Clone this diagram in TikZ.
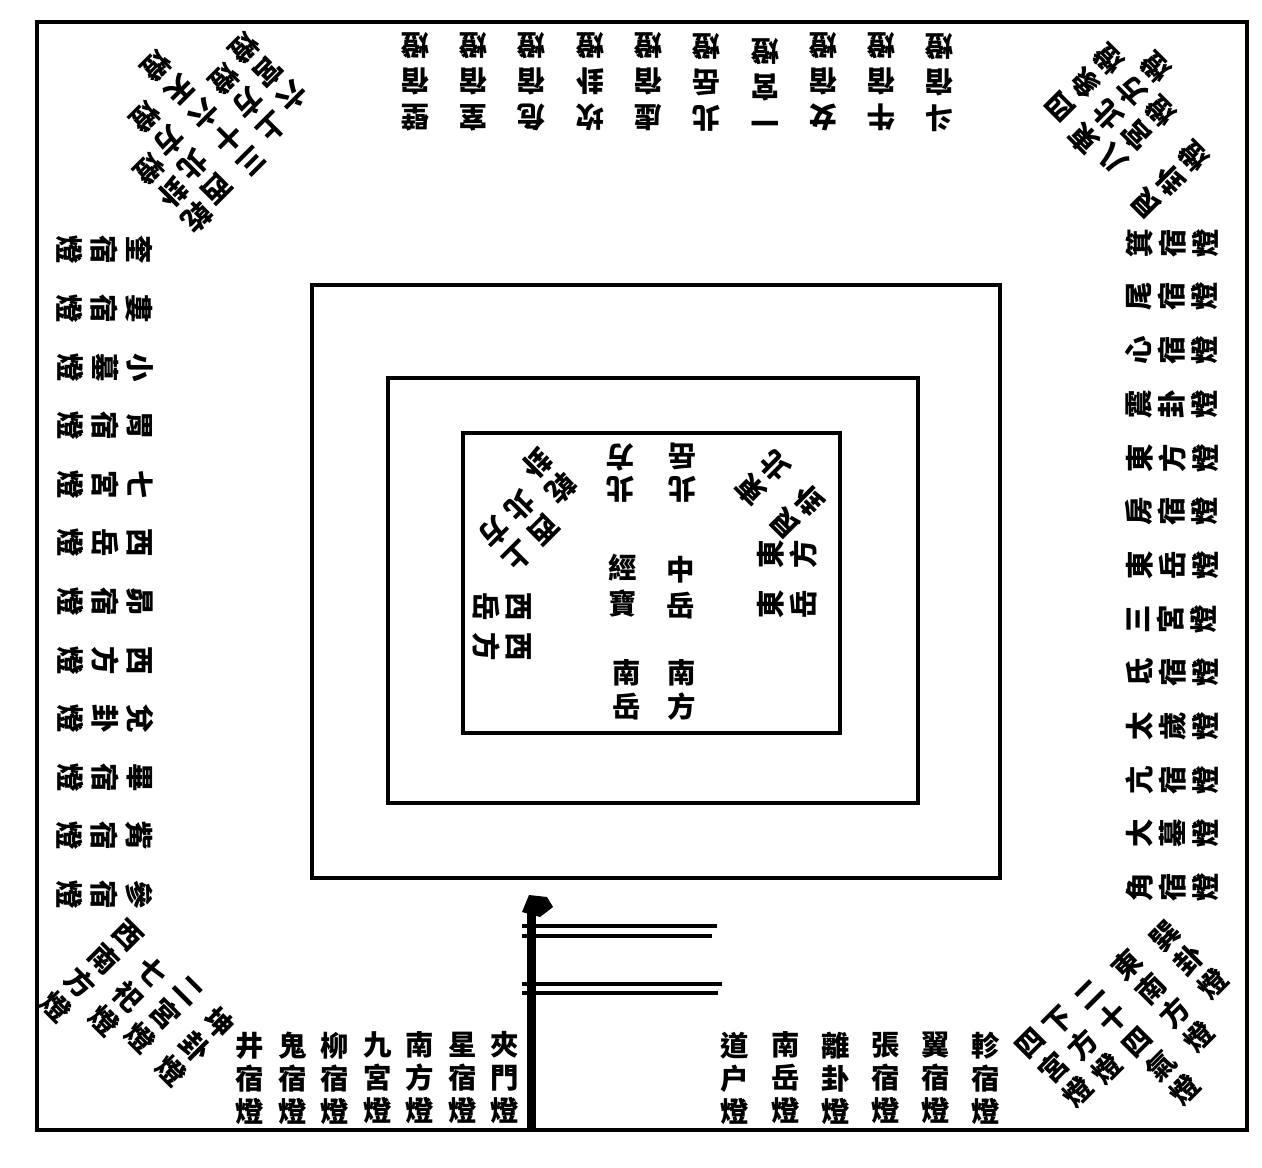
\documentclass[tikz,border=0pt]{standalone}
\usepackage{fontspec}
\newfontfamily\cjk{Noto Sans CJK TC}
\newcommand\lampfont[1]{\cjk\bfseries\fontsize{14.2}{#1}\selectfont}
\tikzset{
  lamp/.style={font=\lampfont{#1}, align=center, inner sep=0pt},
  lamp/.default=17,
  frame/.style={line width=2pt},
  banner/.style={line width=1.6pt},
}

\begin{document}
\begin{tikzpicture}[x=0.5pt,y=-0.5pt]
        \useasboundingbox (0,0) rectangle (1262,1167);
        % frames
        \draw[frame] (37,22) rectangle (1247,1130);
        \draw[frame] (312,285) rectangle (1000,878);
        \draw[frame] (388,378) rectangle (918,803);
        \draw[frame] (463,433) rectangle (840,733);
        % top row (north)
        \foreach \t [count=\i from 0] in {壁\\宿\\燈, 室\\宿\\燈, 危\\宿\\燈, 坎\\卦\\燈, 虛\\宿\\燈,
            北\\岳\\燈, 一\\宮\\燈, 女\\宿\\燈, 牛\\宿\\燈, 斗\\宿\\燈}
        {
            \node[lamp=18, rotate=180] (top\i) at ({415+58.3*\i},82) {\t};
        }
        % right column (east)
        \foreach \t [count=\i from 0] in {箕\\宿\\燈, 尾\\宿\\燈, 心\\宿\\燈, 震\\卦\\燈, 東\\方\\燈,
            房\\宿\\燈, 東\\岳\\燈, 三\\宮\\燈, 氐\\宿\\燈, 太\\歲\\燈, 亢\\宿\\燈, 大\\墓\\燈, 角\\宿\\燈}
        {
            \node[lamp=16.5, rotate=90] (right\i) at (1172,{243+53.7*\i}) {\t};
        }
        % left column (west)
        \foreach \t [count=\i from 0] in {奎\\宿\\燈, 婁\\宿\\燈, 小\\墓\\燈, 胃\\宿\\燈, 七\\宮\\燈,
            西\\岳\\燈, 昴\\宿\\燈, 西\\方\\燈, 兌\\卦\\燈, 畢\\宿\\燈, 觜\\宿\\燈, 參\\宿\\燈}
        {
            \node[lamp=17.5, rotate=-90] (left\i) at (105,{250+58.6*\i}) {\t};
        }
        % bottom row (south)
        \foreach \t [count=\i from 0] in {井\\宿\\燈, 鬼\\宿\\燈, 柳\\宿\\燈, 九\\宮\\燈, 南\\方\\燈,
            星\\宿\\燈, 夾\\門\\燈}
        {
            \node[lamp=16.5] (botl\i) at ({250+42.5*\i},1078) {\t};
        }
        \foreach \t [count=\i from 0] in {道\\户\\燈, 南\\岳\\燈, 離\\卦\\燈, 張\\宿\\燈, 翼\\宿\\燈,
            軫\\宿\\燈}
        {
            \node[lamp=16.5] (botr\i) at ({735+50.2*\i},1078) {\t};
        }
        % corners
        \foreach \x/\y/\t [count=\i] in {268/72/六\\宮\\燈, 248/103/上\\方\\燈,
            203/113/三\\十\\六\\天\\燈, 181/153/西\\北\\方\\燈, 173/193/乾\\卦\\燈}
        {
            \node[lamp=17, rotate=-135] (nw\i) at (\x,\y) {\t};
        }
        \foreach \x/\y/\t [count=\i] in {1085/82/四\\象\\燈, 1120/103/東\\北\\方\\燈,
            1137/135/八\\宮\\燈, 1170/180/艮\\卦\\燈}
        {
            \node[lamp=17, rotate=135] (ne\i) at (\x,\y) {\t};
        }
        \foreach \x/\y/\t [count=\i] in {1189/960/巽\\卦\\燈, 1163/1001/東\\南\\方\\燈,
            1138/1043/二\\十\\四\\氣\\燈, 1083/1045/下\\方\\燈, 1055/1068/四\\宮\\燈}
        {
            \node[lamp=17, rotate=45] (se\i) at (\x,\y) {\t};
        }
        \foreach \x/\y/\t [count=\i] in {91.5/971.5/西\\南\\方\\燈, 128/996.5/七\\祀\\燈,
            163.5/1015/二\\宮\\燈, 195/1046.5/坤\\卦\\燈}
        {
            \node[lamp=17, rotate=-45] (sw\i) at (\x,\y) {\t};
        }
        % centre box
        \node[lamp=16.5, rotate=180] (cn1) at (620,473) {北\\方};
        \node[lamp=16.5, rotate=180] (cn2) at (682,473) {北\\岳};
        \node[lamp=18] (cc1) at (623,586) {經\\寶};
        \node[lamp=18] (cc2) at (681,588) {中\\岳};
        \node[lamp=17] (cs1) at (627,690) {南\\岳};
        \node[lamp=17] (cs2) at (682,690) {南\\方};
        \node[lamp=16.5, rotate=90] (ce1) at (787,554) {東\\方};
        \node[lamp=16.5, rotate=90] (ce2) at (787,604) {東\\岳};
        \node[lamp=16.5, rotate=-90] (cw1) at (502,607) {西\\岳};
        \node[lamp=16.5, rotate=-90] (cw2) at (502,647) {西\\方};
        \node[lamp=17, rotate=135] (cne1) at (763,478) {東\\北};
        \node[lamp=17, rotate=135] (cne2) at (797,512) {艮\\卦};
        \node[lamp=17, rotate=-135] (cnw1) at (549,476) {乾\\卦};
        \node[lamp=17, rotate=-135] (cnw2) at (532,518) {西\\北};
        \node[lamp=17, rotate=-135] (cnw3) at (506,544) {上\\方};
        % lamp pole
        \coordinate (poletop) at (531,900);
        \coordinate (polefoot) at (531,1130);
        \coordinate (flagA) at (717,926);
        \coordinate (flagB) at (712,936);
        \coordinate (flagC) at (722,984);
        \coordinate (flagD) at (718,993);
        \draw[line width=4.5pt] (poletop) -- (polefoot);
        \fill (522,912) -- (529,895) -- (547,897) -- (553,907) -- (540,917) -- cycle;
        \draw[banner] (poletop |- flagA) ++(-9,0) -- (flagA);
        \draw[banner] (poletop |- flagB) ++(-9,0) -- (flagB);
        \draw[banner] (poletop |- flagC) ++(-9,0) -- (flagC);
        \draw[banner] (poletop |- flagD) ++(-9,0) -- (flagD);
\end{tikzpicture}
\end{document}
